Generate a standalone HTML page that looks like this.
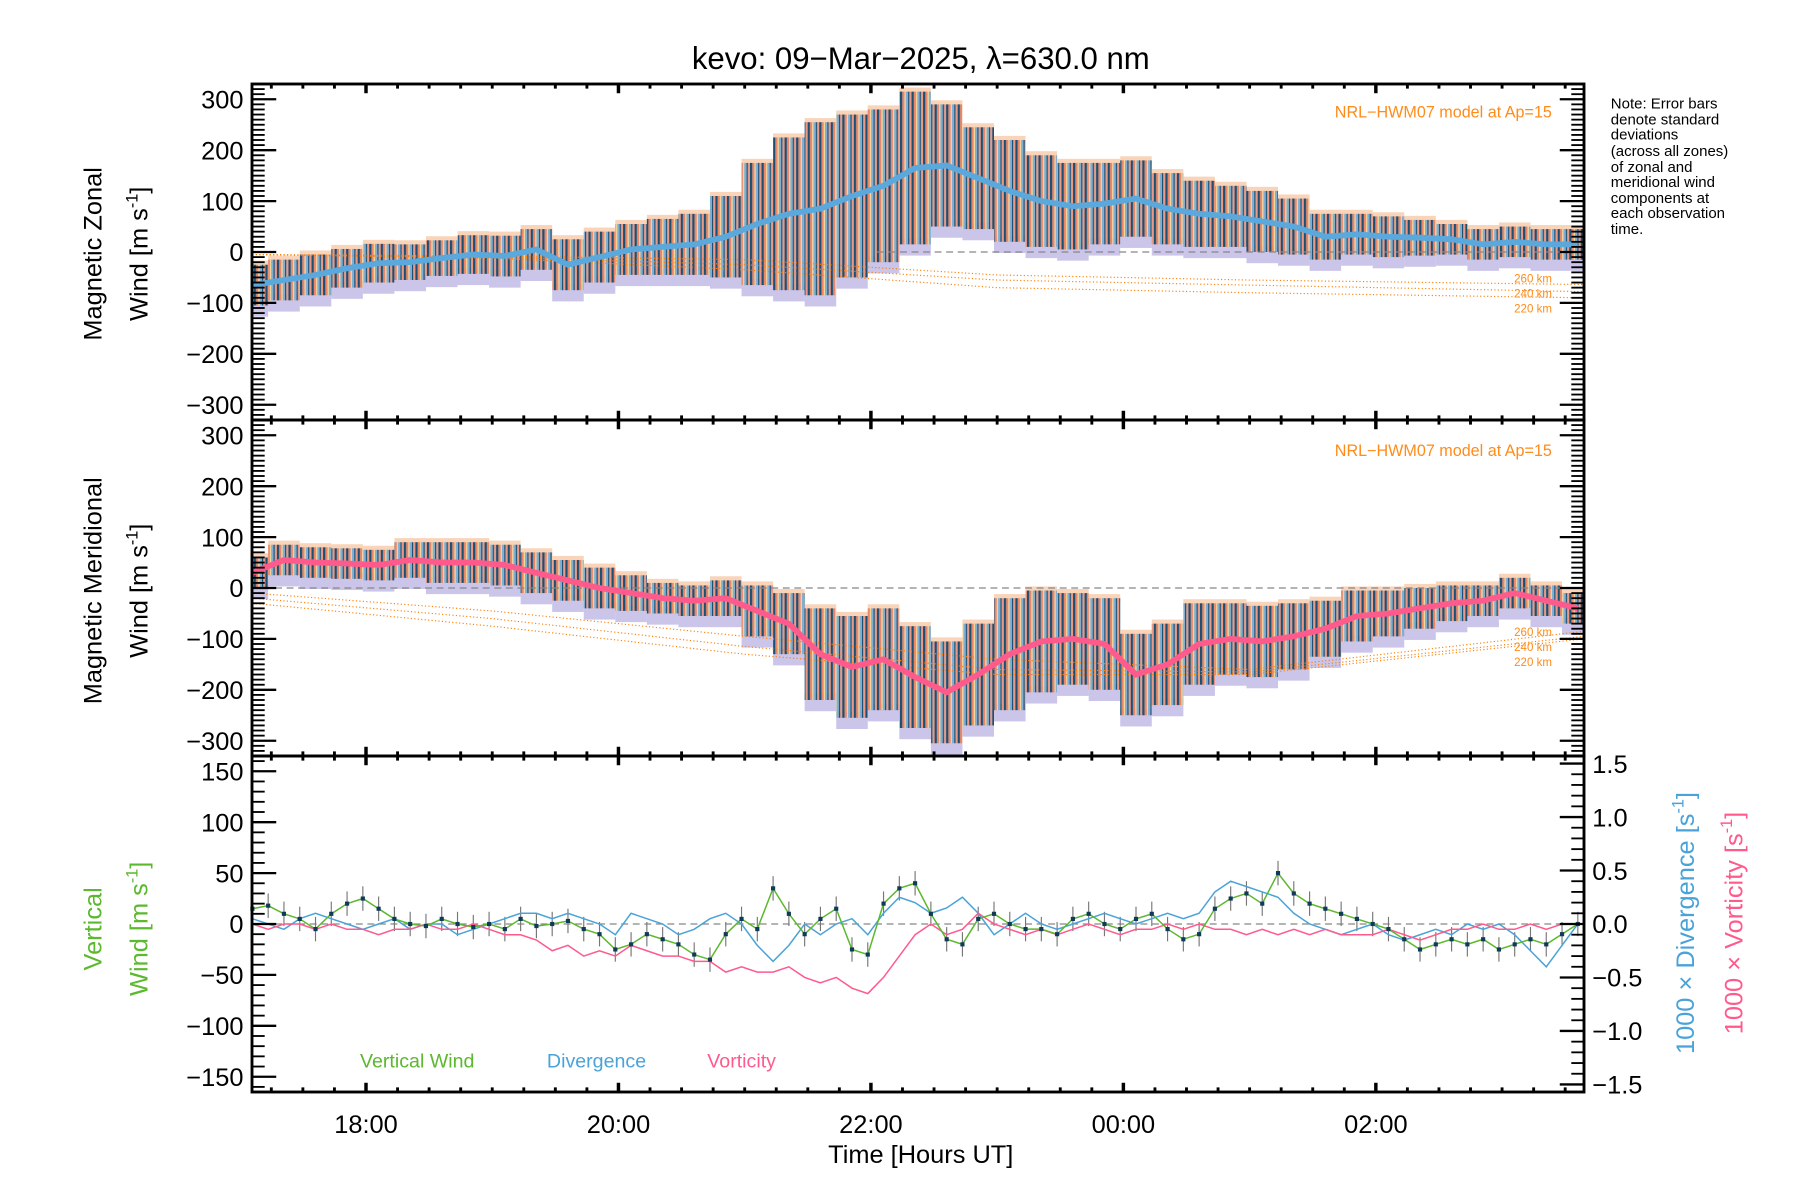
<!DOCTYPE html>
<html><head><meta charset="utf-8"><style>
html,body{margin:0;padding:0;background:#fff;}
svg{display:block;font-family:"Liberation Sans",sans-serif;}
</style></head><body>
<svg id="chart" xmlns="http://www.w3.org/2000/svg" width="1800" height="1200" viewBox="0 0 1560 1040">
<defs>
<pattern id="stripes" patternUnits="userSpaceOnUse" width="10" height="10">
<rect x="0" y="0" width="2" height="10" fill="#1d4f73"/>
<rect x="2" y="0" width="2" height="10" fill="#e8876a"/>
<rect x="4" y="0" width="1" height="10" fill="#f3d79a"/>
<rect x="5" y="0" width="2" height="10" fill="#7fb0d4"/>
<rect x="7" y="0" width="1.2" height="10" fill="#1d4f73"/>
<rect x="8.2" y="0" width="1.8" height="10" fill="#e99a86"/>
</pattern>
</defs>
<rect width="1560" height="1040" fill="#fff"/>
<text x="798" y="60" font-size="27" text-anchor="middle">kevo: 09−Mar−2025, λ=630.0 nm</text>
<g id="marks"></g>
<g id="axes"></g>
<g font-size="13" fill="#000">
<text x="1396" y="94">Note: Error bars</text>
<text x="1396" y="108">denote standard</text>
<text x="1396" y="121">deviations</text>
<text x="1396" y="135">(across all zones)</text>
<text x="1396" y="149">of zonal and</text>
<text x="1396" y="162">meridional wind</text>
<text x="1396" y="176">components at</text>
<text x="1396" y="189">each observation</text>
<text x="1396" y="203">time.</text>
</g>
<text x="1345" y="102" font-size="14" fill="#ff8c1a" text-anchor="end">NRL−HWM07 model at Ap=15</text>
<text x="1345" y="395" font-size="14" fill="#ff8c1a" text-anchor="end">NRL−HWM07 model at Ap=15</text>
<g font-size="10" fill="#ff8c1a" text-anchor="end">
<text x="1345" y="245">260 km</text>
<text x="1345" y="258">240 km</text>
<text x="1345" y="271">220 km</text>
<text x="1345" y="551">260 km</text>
<text x="1345" y="564">240 km</text>
<text x="1345" y="577">220 km</text>
</g>
<g font-size="22" fill="#000">
<text transform="translate(88,220) rotate(-90)" text-anchor="middle">Magnetic Zonal</text>
<text transform="translate(128,220) rotate(-90)" text-anchor="middle">Wind [m s<tspan font-size="14" dy="-9">-1</tspan><tspan dy="9">]</tspan></text>
<text transform="translate(88,512) rotate(-90)" text-anchor="middle">Magnetic Meridional</text>
<text transform="translate(128,512) rotate(-90)" text-anchor="middle">Wind [m s<tspan font-size="14" dy="-9">-1</tspan><tspan dy="9">]</tspan></text>
</g>
<g font-size="22" fill="#5cb82e">
<text transform="translate(88,805) rotate(-90)" text-anchor="middle">Vertical</text>
<text transform="translate(128,805) rotate(-90)" text-anchor="middle">Wind [m s<tspan font-size="14" dy="-9">-1</tspan><tspan dy="9">]</tspan></text>
</g>
<text transform="translate(1468,800) rotate(-90)" text-anchor="middle" font-size="22" fill="#4aa3d8">1000 × Divergence [s<tspan font-size="14" dy="-9">-1</tspan><tspan dy="9">]</tspan></text>
<text transform="translate(1510,800) rotate(-90)" text-anchor="middle" font-size="22" fill="#ff5a8c">1000 × Vorticity [s<tspan font-size="14" dy="-9">-1</tspan><tspan dy="9">]</tspan></text>
<g font-size="17">
<text x="312" y="925" fill="#5cb82e">Vertical Wind</text>
<text x="474" y="925" fill="#4aa3d8">Divergence</text>
<text x="613" y="925" fill="#ff5a8c">Vorticity</text>
</g>
<text x="798" y="1008" font-size="22" text-anchor="middle">Time [Hours UT]</text>
</svg>
<script>
const zTimes=[];for(let i=0;i<43;i++)zTimes.push(17.1+i*0.25);
const zonalMean=[-65,-55,-45,-32,-22,-20,-12,-5,-8,5,-25,-10,5,10,15,30,55,75,85,110,130,165,170,145,120,100,90,95,105,85,75,70,60,50,30,35,30,28,25,15,20,15,15];
const zonalSigma=[40,40,40,38,38,35,35,38,40,40,50,50,50,55,60,80,120,150,170,160,150,150,120,100,100,90,85,80,75,70,65,60,60,55,45,40,40,35,30,30,30,30,30];
const meridMean=[30,55,50,48,45,55,50,50,45,30,15,0,-10,-20,-25,-20,-45,-70,-130,-155,-140,-175,-205,-170,-130,-105,-100,-110,-170,-150,-110,-100,-105,-95,-80,-55,-50,-40,-30,-25,-10,-25,-40];
const meridSigma=[30,30,30,30,30,35,40,40,40,40,40,40,35,30,30,35,50,60,90,100,100,100,100,100,110,100,90,90,80,80,80,70,70,65,55,50,45,40,35,30,30,30,30];
const vTimes=[];for(let i=0;i<85;i++)vTimes.push(17.1+i*0.125);
const vertWind=[15,18,10,5,-5,10,20,25,15,5,0,-2,5,0,-3,0,-5,5,-2,0,3,-5,-10,-25,-20,-10,-15,-20,-30,-35,-10,5,-5,35,10,-10,5,15,-25,-30,20,35,40,10,-15,-20,5,10,0,-5,-5,-10,5,10,0,-5,5,10,-5,-15,-10,15,25,30,20,50,30,20,15,10,5,0,-5,-15,-25,-20,-15,-20,-15,-25,-20,-15,-20,-10,0];
const divergence=[0.05,0.0,-0.05,0.05,0.1,0.05,0.0,-0.05,0.0,0.05,-0.05,0.0,0.0,-0.1,-0.05,0.0,0.05,0.1,0.1,0.05,0.1,0.05,0.0,-0.1,0.1,0.05,0.0,-0.1,-0.05,0.05,0.1,0.0,-0.2,-0.35,-0.2,0.0,-0.1,0.0,0.05,-0.1,0.1,0.25,0.2,0.1,0.15,0.25,0.1,-0.1,0.0,0.1,0.0,-0.05,0.0,0.05,0.1,0.05,0.0,0.05,0.1,0.05,0.1,0.3,0.4,0.35,0.3,0.25,0.1,0.0,-0.05,-0.1,-0.05,0.0,-0.1,-0.15,-0.1,-0.05,-0.1,0.0,-0.05,0.0,-0.1,-0.25,-0.4,-0.2,0.0];
const vorticity=[0.0,-0.05,0.0,0.0,-0.05,0.0,-0.05,-0.05,-0.1,-0.05,-0.05,0.0,-0.05,-0.05,0.0,-0.05,-0.1,-0.1,-0.15,-0.25,-0.2,-0.3,-0.25,-0.3,-0.2,-0.25,-0.3,-0.3,-0.35,-0.35,-0.45,-0.4,-0.45,-0.45,-0.4,-0.5,-0.55,-0.5,-0.6,-0.65,-0.5,-0.3,-0.1,0.0,-0.1,-0.05,0.1,0.0,-0.05,-0.1,-0.05,-0.1,-0.05,0.0,-0.05,-0.1,-0.05,-0.05,0.0,-0.05,0.0,-0.05,-0.05,-0.1,-0.05,-0.1,-0.05,-0.1,-0.05,-0.1,-0.1,-0.1,-0.05,-0.1,-0.15,-0.1,-0.05,-0.05,0.0,-0.05,-0.05,0.0,-0.05,0.0,0.0];
const modelTimes=[17.1,19,21,23,25,27.65];
const zonal260=[-5,-8,-15,-45,-55,-64];
const zonal240=[-5,-10,-25,-55,-65,-78];
const zonal220=[-5,-12,-35,-70,-80,-90];
const merid260=[-10,-45,-95,-140,-160,-85];
const merid240=[-20,-60,-115,-160,-165,-95];
const merid220=[-30,-75,-130,-170,-170,-100];
const xTickLabels=["18:00","20:00","22:00","00:00","02:00"];
const xTickHours=[18,20,22,24,26];
const windTicks=[300,200,100,0,-100,-200,-300];
const vertTicks=[150,100,50,0,-50,-100,-150];
const rightTicks=[1.5,1.0,0.5,0.0,-0.5,-1.0,-1.5];

const NS="http://www.w3.org/2000/svg";
const L=218.4,R=1372.8,PXH=109.4,T0=18-(317.2-218.4)/109.4,T1=T0+(R-L)/PXH;
const P=[{top:72.8,bot:364},{top:364,bot:655.2},{top:655.2,bot:946.4}];
function xs(t){return L+(t-T0)*PXH;}
function y1(v){return 218.4-v*0.4412;}
function y2(v){return 509.6-v*0.4412;}
function y3(v){return 800.8-v*0.8824;}
function yr(v){return 800.8-v*92.7;}
const marks=document.getElementById('marks'),axes=document.getElementById('axes');
function mk(tag,attrs,parent){const e=document.createElementNS(NS,tag);for(const k in attrs)e.setAttribute(k,attrs[k]);(parent||marks).appendChild(e);return e;}
function clampX(x){return Math.max(L,Math.min(R,x));}

function bands(times,mean,sig,yf,name){
  const dt=times[1]-times[0];
  for(let i=0;i<times.length;i++){
    const x0=clampX(xs(times[i]-dt/2)),x1=clampX(xs(times[i]+dt/2));
    const lo=mean[i]-sig[i],hi=mean[i]+sig[i];
    const l=mk('rect',{x:x0,y:yf(lo+12),width:x1-x0,height:yf(lo-22)-yf(lo+12),fill:'#b8b2e2',opacity:0.75});
    
    
    const u=mk('rect',{x:x0,y:yf(hi+8),width:x1-x0,height:yf(hi-8)-yf(hi+8),fill:'#f7c9a6',opacity:0.8});
    
    
    const r=mk('rect',{x:x0,y:yf(hi),width:x1-x0,height:yf(lo)-yf(hi),fill:'url(#stripes)'});
    
    
  }
}
function line(times,vals,xf,yf,attrs,name){
  const pts=times.map((t,i)=>clampX(xf(t)).toFixed(1)+','+yf(vals[i]).toFixed(1)).join(' ');
  const p=mk('polyline',Object.assign({points:pts,fill:'none'},attrs));
  
  
  return p;
}
function zero(yv,x0,name){const z=mk('line',{x1:x0,x2:R,y1:yv,y2:yv,stroke:'#888','stroke-dasharray':'6 4','stroke-width':1});
  
  }

bands(zTimes,zonalMean,zonalSigma,y1,'zonal');
zero(y1(0),760,'zonal-zero-line');
line(modelTimes,zonal260,xs,y1,{stroke:'#ff7f00','stroke-width':1,'stroke-dasharray':'1 2'},'zonal-model-260');
line(modelTimes,zonal240,xs,y1,{stroke:'#ff7f00','stroke-width':1,'stroke-dasharray':'1 2'},'zonal-model-240');
line(modelTimes,zonal220,xs,y1,{stroke:'#ff7f00','stroke-width':1,'stroke-dasharray':'1 2'},'zonal-model-220');
line(zTimes,zonalMean,xs,y1,{stroke:'#5aa8dc','stroke-width':5},'zonal-mean-line');
bands(zTimes,meridMean,meridSigma,y2,'merid');
zero(y2(0),218.4,'merid-zero-line');
line(modelTimes,merid260,xs,y2,{stroke:'#ff7f00','stroke-width':1,'stroke-dasharray':'1 2'},'merid-model-260');
line(modelTimes,merid240,xs,y2,{stroke:'#ff7f00','stroke-width':1,'stroke-dasharray':'1 2'},'merid-model-240');
line(modelTimes,merid220,xs,y2,{stroke:'#ff7f00','stroke-width':1,'stroke-dasharray':'1 2'},'merid-model-220');
line(zTimes,meridMean,xs,y2,{stroke:'#ff5a8c','stroke-width':5},'merid-mean-line');
zero(y3(0),218.4,'vertical-zero-line');
for(let i=0;i<vTimes.length;i++){
  const x=xs(vTimes[i]);
  const eb=mk('line',{x1:x,x2:x,y1:y3(vertWind[i]+12),y2:y3(vertWind[i]-12),stroke:'#777','stroke-width':1});
  
  
}
line(vTimes,divergence,xs,yr,{stroke:'#4aa3d8','stroke-width':1.3},'divergence-line');
line(vTimes,vorticity,xs,yr,{stroke:'#ff5a8c','stroke-width':1.3},'vorticity-line');
line(vTimes,vertWind,xs,y3,{stroke:'#5cb82e','stroke-width':1.3},'vertical-wind-line');
for(let i=0;i<vTimes.length;i++){
  const c=mk('rect',{x:xs(vTimes[i])-1.8,y:y3(vertWind[i])-1.8,width:3.6,height:3.6,fill:'#0f3a5a'});
  
  
}

function ax(tag,attrs){return mk(tag,attrs,axes);}
P.forEach((p,pi)=>{
  const f=ax('rect',{x:L,y:p.top,width:R-L,height:p.bot-p.top,fill:'none',stroke:'#000','stroke-width':2.5});
  
  
  for(let m=Math.ceil(T0*4);m<=T1*4;m++){
    const t=m/4,x=xs(t),maj=(m%8===0);const len=maj?8:4;
    const tk=ax('line',{x1:x,x2:x,y1:p.bot,y2:p.bot-len,stroke:'#000','stroke-width':maj?3:2.5});
    
    
    const tk2=ax('line',{x1:x,x2:x,y1:p.top,y2:p.top+len,stroke:'#000','stroke-width':maj?3:2.5});
    
    
  }
});
function yAxis(yf,lo,hi,minorStep,majStep,right,name){
  for(let v=lo;v<=hi+1e-9;v+=minorStep){
    const vv=Math.round(v*1000)/1000;
    const maj=Math.abs(Math.round(vv/majStep)*majStep-vv)<1e-6;const y=yf(vv);const len=maj?21:11;
    const x=right?R:L;const d=right?-1:1;
    const tk=ax('line',{x1:x,x2:x+d*len,y1:y,y2:y,stroke:'#000','stroke-width':maj?2:1.6});
    
    
  }
}
yAxis(y1,-320,320,10,100,false,'zonal-y');
yAxis(y1,-320,320,10,100,true,'zonal-y-right');
yAxis(y2,-320,320,10,100,false,'merid-y');
yAxis(y2,-320,320,10,100,true,'merid-y-right');
yAxis(y3,-160,160,10,50,false,'vertical-y');
yAxis(yr,-1.5,1.5,0.1,0.5,true,'right-y');
windTicks.forEach(v=>{
  [y1,y2].forEach((yf,k)=>{
    const t=ax('text',{x:211,y:yf(v)+8,'font-size':22,'text-anchor':'end'});t.textContent=(v<0?'−'+(-v):v);
    
    
  });
});
vertTicks.forEach(v=>{
  const t=ax('text',{x:211,y:y3(v)+8,'font-size':22,'text-anchor':'end'});t.textContent=(v<0?'−'+(-v):v);
  
  
});
rightTicks.forEach(v=>{
  const t=ax('text',{x:1380,y:yr(v)+8,'font-size':22});t.textContent=(v<0?'−'+(-v).toFixed(1):v.toFixed(1));
  
  
});
xTickHours.forEach((h,i)=>{
  const t=ax('text',{x:xs(h),y:982,'font-size':22,'text-anchor':'middle'});t.textContent=xTickLabels[i];
  
  
});
</script>
</body></html>
